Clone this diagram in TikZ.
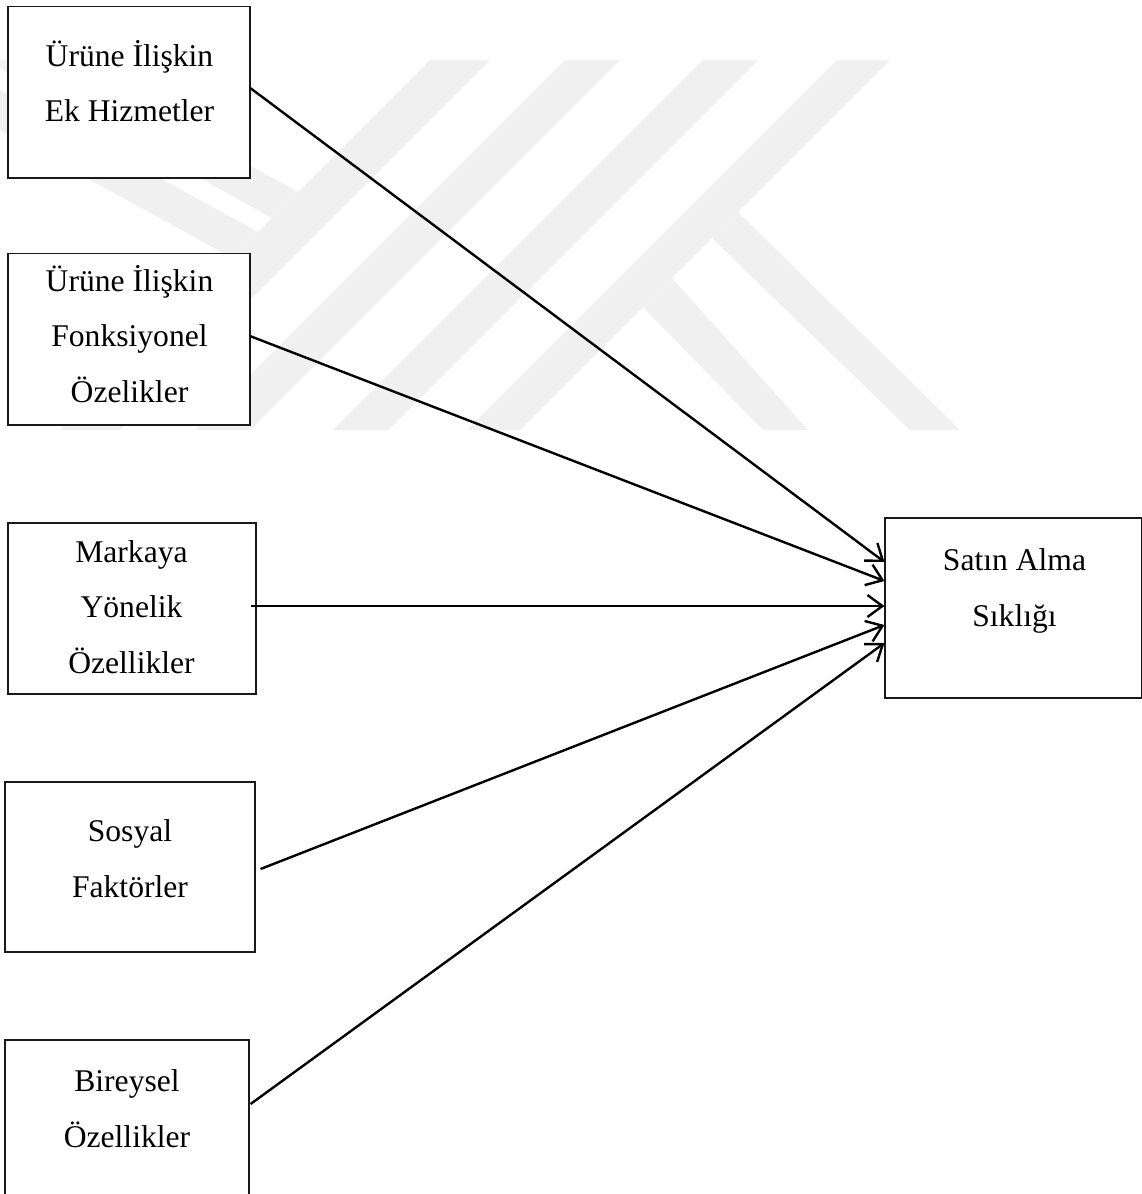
\documentclass[tikz,border=0pt]{standalone}
\usepackage{fontspec}
\setmainfont{Liberation Serif}
\usetikzlibrary{arrows.meta,calc}
\definecolor{wm}{RGB}{240,240,240}
\definecolor{boxline}{RGB}{25,25,25}
\tikzset{
  box/.style={draw=boxline, line width=0.55pt, fill=white, rectangle, inner sep=0pt},
  txt/.style={align=center, inner sep=0pt, anchor=base, font=\fontsize{15.8pt}{27.6pt}\selectfont},
  conn/.style={line width=1.2pt, -{Straight Barb[length=7.5pt,width=11pt,line width=1.2pt]}},
  wmband/.style={fill=wm, draw=none}
}
\begin{document}
\begin{tikzpicture}[x=0.5pt,y=-0.5pt]
\useasboundingbox (0,0) rectangle (1141,1194);
\fill[white] (0,0) rectangle (1141,1194);
% watermark
\fill[wmband] (60,430) -- (120,430) -- (490,60) -- (430,60) -- cycle;
\fill[wmband] (195,430) -- (250,430) -- (620,60) -- (565,60) -- cycle;
\fill[wmband] (333,430) -- (388,430) -- (758,60) -- (703,60) -- cycle;
\fill[wmband] (467,430) -- (520,430) -- (890,60) -- (837,60) -- cycle;
\fill[wmband] (738,212) -- (960,430) -- (910,430) -- (712,238) -- cycle;
\fill[wmband] (672,278) -- (808,430) -- (763,430) -- (643,307) -- cycle;
\fill[wmband] (0,60) -- (58,60) -- (298,192) -- (272,218) -- (0,68) -- cycle;
\fill[wmband] (0,90) -- (258,232) -- (232,258) -- (0,130) -- cycle;
% boxes
\node[box, minimum width=121pt, minimum height=85.75pt] (b1) at (129,92.25) {};
\node[box, minimum width=121pt, minimum height=85.75pt] (b2) at (129,339.25) {};
\node[box, minimum width=124pt, minimum height=85.5pt] (b3) at (132,608.5) {};
\node[box, minimum width=125pt, minimum height=85pt] (b4) at (130,867) {};
\node[box, minimum width=122pt, minimum height=85pt] (b5) at (127,1125) {};
\node[box, minimum width=128.5pt, minimum height=90pt] (tg) at (1013.5,608) {};
% texts (anchor = baseline of last line)
\node[txt] (t1) at (129.5,121.5) {Ürüne İlişkin\\Ek Hizmetler};
\node[txt] (t2) at (129.5,402) {Ürüne İlişkin\\Fonksiyonel\\Özelikler};
\node[txt] (t3) at (131.5,673) {Markaya\\Yönelik\\Özellikler};
\node[txt] (t4) at (130,897) {Sosyal\\Faktörler};
\node[txt] (t5) at (127,1147) {Bireysel\\Özellikler};
\node[txt] (tt) at (1014.5,626) {Satın Alma\\Sıklığı};
% connectors
\draw[conn] ($(b1.east)+(0,-4)$) -- ($(tg.west)+(0,-46)$);
\draw[conn] ($(b2.east)+(0,-3)$) -- ($(tg.west)+(0,-27)$);
\draw[conn] ($(b3.east)+(-6,-2.5)$) -- ($(tg.west)+(0,-2)$);
\draw[conn] ($(b4.east)+(5,2)$) -- ($(tg.west)+(0,17)$);
\draw[conn] ($(b5.east)+(1,-21)$) -- ($(tg.west)+(0,35)$);
\end{tikzpicture}
\end{document}
